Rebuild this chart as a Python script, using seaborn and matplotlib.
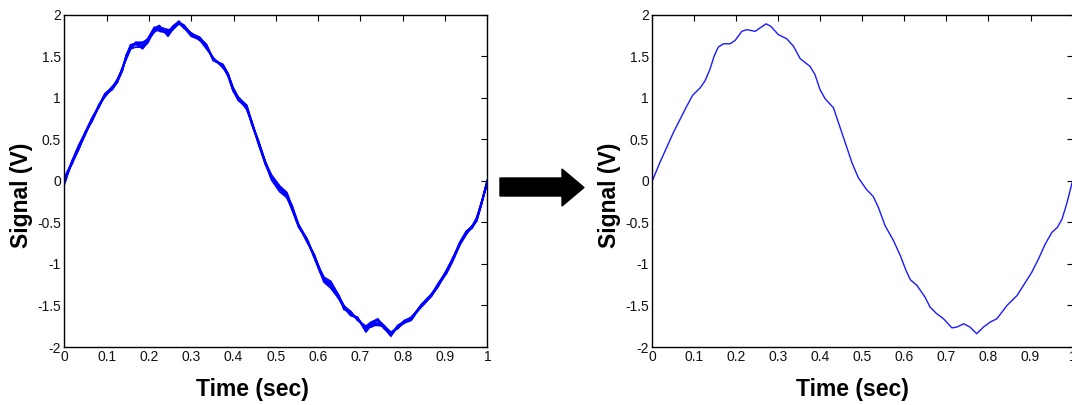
import numpy as np
import pandas as pd
import matplotlib
matplotlib.use("Agg")
import matplotlib.pyplot as plt
import seaborn as sns
from matplotlib.patches import Polygon

# ---- data ----
time_s = [0.000, 0.018, 0.034, 0.050, 0.066, 0.082, 0.096, 0.114, 0.125, 0.137,
          0.147, 0.157, 0.169, 0.185, 0.197, 0.213, 0.225, 0.245, 0.256, 0.271,
          0.282, 0.300, 0.320, 0.336, 0.352, 0.375, 0.387, 0.399, 0.411, 0.431,
          0.443, 0.459, 0.475, 0.490, 0.509, 0.526, 0.538, 0.554, 0.574, 0.591,
          0.603, 0.614, 0.630, 0.649, 0.661, 0.677, 0.693, 0.713, 0.725, 0.741,
          0.756, 0.772, 0.788, 0.804, 0.820, 0.844, 0.868, 0.883, 0.903, 0.919,
          0.935, 0.951, 0.964, 0.975, 0.987, 0.996, 1.000]

avg_signal = [0.00, 0.22, 0.40, 0.58, 0.74, 0.90, 1.03, 1.12, 1.20, 1.34,
              1.50, 1.61, 1.65, 1.65, 1.69, 1.80, 1.82, 1.80, 1.84, 1.89,
              1.86, 1.76, 1.71, 1.62, 1.47, 1.38, 1.28, 1.10, 0.99, 0.88,
              0.70, 0.46, 0.22, 0.04, -0.10, -0.19, -0.32, -0.54, -0.72, -0.91,
              -1.07, -1.19, -1.26, -1.40, -1.52, -1.60, -1.66, -1.77, -1.76, -1.72,
              -1.76, -1.84, -1.76, -1.70, -1.66, -1.50, -1.38, -1.26, -1.10, -0.94,
              -0.76, -0.62, -0.56, -0.46, -0.26, -0.08, 0.00]

# deviations of the individual recorded traces from the average (left panel)
trace_a = [-0.05, 0.02, 0.03, 0.01, 0.02, 0.01, -0.01, 0.01, 0.02, 0.01,
           0.02, 0.03, 0.00, -0.06, -0.02, 0.04, 0.05, -0.06, -0.02, 0.02,
           0.01, 0.01, 0.02, 0.01, -0.02, 0.02, 0.01, 0.02, 0.02, 0.03,
           -0.01, 0.02, 0.01, 0.03, 0.04, 0.05, 0.02, 0.01, -0.02, 0.02,
           0.02, 0.03, 0.05, 0.02, 0.01, 0.03, -0.02, 0.02, 0.06, 0.05,
           0.02, 0.01, 0.00, 0.02, 0.01, 0.01, 0.02, 0.00, 0.02, 0.01,
           0.02, 0.02, -0.01, 0.01, 0.02, 0.01, 0.00]
trace_b = [0.04, -0.02, -0.02, 0.01, -0.02, 0.00, 0.01, -0.02, -0.01, -0.02,
           0.02, -0.02, 0.02, 0.01, 0.02, 0.05, -0.02, -0.02, 0.02, 0.03,
           -0.01, -0.02, -0.01, -0.03, 0.01, -0.01, -0.02, -0.02, -0.01, 0.03,
           0.02, -0.02, -0.01, -0.03, -0.03, -0.01, -0.02, -0.02, 0.01, -0.02,
           -0.01, -0.03, -0.03, -0.02, -0.01, -0.02, 0.02, -0.05, 0.02, 0.01,
           -0.01, -0.03, 0.01, -0.01, 0.01, -0.02, -0.01, 0.01, -0.02, -0.02,
           -0.01, -0.02, 0.01, -0.02, -0.01, -0.01, 0.01]
trace_c = [0.01, 0.01, -0.01, -0.02, 0.01, -0.01, 0.00, 0.02, 0.00, 0.01,
           -0.03, -0.02, -0.04, -0.04, 0.00, 0.02, 0.03, 0.02, -0.02, 0.00,
           0.02, 0.01, 0.00, 0.02, -0.01, 0.02, 0.00, 0.02, 0.01, -0.01,
           0.00, 0.02, 0.01, 0.00, 0.03, -0.01, 0.03, 0.01, 0.02, 0.00,
           0.02, -0.02, 0.01, 0.02, -0.03, 0.02, -0.01, 0.01, 0.00, 0.05,
           0.01, 0.02, -0.02, 0.00, -0.01, 0.01, 0.00, -0.01, 0.01, 0.02,
           -0.01, 0.01, 0.02, 0.00, 0.01, -0.01, -0.01]
trace_d = [-0.02, 0.00, 0.01, 0.00, -0.01, 0.02, -0.02, 0.00, -0.02, 0.00,
           0.01, 0.00, 0.01, -0.05, -0.03, 0.01, 0.00, 0.00, 0.01, 0.03,
           0.00, 0.01, -0.02, 0.00, 0.01, -0.02, 0.01, -0.01, 0.00, 0.01,
           -0.02, 0.00, -0.02, 0.01, 0.02, 0.03, -0.02, 0.00, -0.01, 0.02,
           -0.01, 0.01, 0.03, -0.02, 0.01, -0.02, 0.01, -0.01, 0.05, 0.06,
           -0.01, -0.02, 0.00, -0.01, -0.02, 0.00, 0.00, -0.02, 0.01, 0.00,
           -0.01, 0.01, 0.00, -0.02, 0.01, -0.02, 0.00]
trace_e = [0.00, -0.01, 0.00, 0.01, 0.02, -0.01, 0.01, -0.01, 0.01, -0.01,
           0.00, 0.01, -0.01, -0.02, 0.01, -0.01, 0.02, -0.04, 0.00, 0.01,
           -0.02, 0.02, 0.01, -0.01, 0.00, 0.00, -0.01, 0.00, -0.02, 0.00,
           0.01, -0.01, 0.00, -0.01, 0.02, 0.04, 0.00, -0.01, 0.01, -0.01,
           0.00, 0.00, -0.03, 0.00, 0.00, -0.01, 0.00, -0.03, 0.04, 0.04,
           -0.02, 0.00, -0.01, 0.01, -0.01, 0.00, 0.01, -0.01, -0.01, 0.00,
           0.00, -0.01, 0.00, -0.01, 0.00, 0.01, 0.00]
trace_f = [0.03, 0.01, -0.02, -0.01, 0.00, 0.01, 0.02, 0.01, -0.01, 0.02,
           -0.01, 0.02, 0.01, 0.02, 0.00, 0.03, -0.01, 0.01, -0.02, 0.01,
           0.01, -0.01, 0.01, 0.02, -0.02, 0.01, 0.01, 0.01, 0.01, -0.02,
           0.01, 0.01, 0.01, -0.02, 0.01, 0.02, -0.02, 0.01, 0.01, 0.01,
           0.02, -0.01, 0.02, 0.01, 0.02, 0.01, 0.01, -0.03, 0.02, -0.02,
           0.01, -0.02, 0.02, 0.01, 0.02, -0.01, 0.01, 0.02, 0.01, 0.01,
           0.02, 0.01, 0.01, 0.02, 0.01, 0.00, -0.01]
trace_devs = [trace_a, trace_b, trace_c, trace_d, trace_e, trace_f]

x_ticks = [0, 0.1, 0.2, 0.3, 0.4, 0.5, 0.6, 0.7, 0.8, 0.9, 1]
x_ticklabels = ["0", "0.1", "0.2", "0.3", "0.4", "0.5", "0.6", "0.7", "0.8", "0.9", "1"]
y_ticks = [-2, -1.5, -1, -0.5, 0, 0.5, 1, 1.5, 2]
y_ticklabels = ["-2", "-1.5", "-1", "-0.5", "0", "0.5", "1", "1.5", "2"]

# ---- build long tables ----
rows = []
for k, dev in enumerate(trace_devs):
    for t, v, d in zip(time_s, avg_signal, dev):
        rows.append({"time": t, "signal": v + d, "trace": k})
for t, v in zip(time_s, avg_signal):
    rows.append({"time": t, "signal": v, "trace": len(trace_devs)})
raw_df = pd.DataFrame(rows)
avg_df = pd.DataFrame({"time": time_s, "signal": avg_signal})

sns.set_theme(style="white")
plt.rcParams["font.family"] = ["Liberation Sans", "DejaVu Sans"]

fig = plt.figure(figsize=(10.72, 4.05), dpi=100)
ax1 = fig.add_axes([0.0600, 0.1432, 0.3946, 0.8205])
ax2 = fig.add_axes([0.6085, 0.1432, 0.3920, 0.8205])

n_tr = raw_df["trace"].nunique()
sns.lineplot(data=raw_df, x="time", y="signal", hue="trace",
             palette=["#0000ff"] * n_tr, legend=False, linewidth=1.25, ax=ax1,
             estimator=None)
sns.lineplot(data=avg_df, x="time", y="signal", color="#1a1aff",
             linewidth=1.0, ax=ax2, estimator=None)

xlabel_x = {0: 0.444, 1: 0.476}
for i, ax in enumerate((ax1, ax2)):
    ax.set_xlim(0, 1)
    ax.set_ylim(-2, 2)
    ax.set_xticks(x_ticks)
    ax.set_xticklabels(x_ticklabels)
    ax.set_yticks(y_ticks)
    ax.set_yticklabels(y_ticklabels)
    ax.tick_params(direction="in", length=4, width=0.8, top=True, right=True,
                   labelsize=10, colors="black", labelcolor="#111111", pad=2.5)
    for s in ax.spines.values():
        s.set_color("black")
        s.set_linewidth(1.0)
        s.set_visible(True)
    ax.set_xlabel("Time (sec)", fontsize=16.5, fontweight="bold", color="black")
    ax.set_ylabel("Signal (V)", fontsize=16.5, fontweight="bold", color="black")
    ax.xaxis.set_label_coords(xlabel_x[i], -0.093)
    ax.yaxis.set_label_coords(-0.074, 0.455)
    ax.grid(False)

# block arrow between the panels (figure pixel coordinates -> fraction)
W, H = 1072, 405
pts = [(500, 178), (562, 178), (562, 169), (584, 187.5), (562, 206),
       (562, 196), (500, 196)]
arrow = Polygon([(x / W, 1 - y / H) for x, y in pts], closed=True,
                transform=fig.transFigure, facecolor="black", edgecolor="black")
fig.patches.append(arrow)

fig.savefig("out.png", dpi=100)
